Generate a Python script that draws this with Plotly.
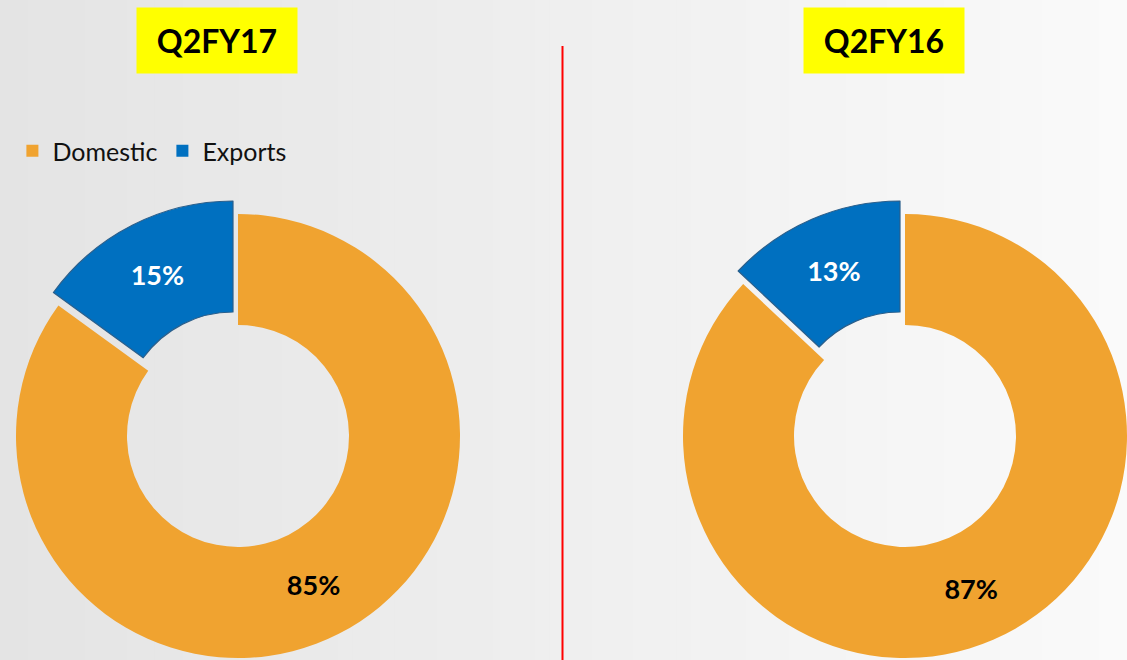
import plotly.graph_objects as go

# ---- data ----
labels = ["Domestic", "Exports"]
q2fy17_values = [85, 15]
q2fy16_values = [87, 13]
titles = ["Q2FY17", "Q2FY16"]
slice_colors = ["#F0A330", "#0070C0"]

W, H = 1127, 660
FONT = "Lato"
TRANSPARENT = "rgba(0,0,0,0)"


def dom(cx, cy, r):
    return dict(x=[(cx - r) / W, (cx + r) / W],
                y=[1 - (cy + r) / H, 1 - (cy - r) / H])


fig = go.Figure()

# legend-only trace (invisible, tiny domain)
fig.add_trace(go.Pie(
    labels=labels, values=q2fy17_values, sort=False, direction="clockwise",
    marker=dict(colors=slice_colors), textinfo="none", hoverinfo="skip",
    domain=dict(x=[0, 0.0001], y=[0, 0.0001]), showlegend=True,
))

R = 222
PULL_DX, PULL_DY = -5, -13
donuts = [
    (q2fy17_values, 238, 436),
    (q2fy16_values, 905, 436),
]

for vals, cx, cy in donuts:
    # main ring: domestic slice
    fig.add_trace(go.Pie(
        labels=labels, values=vals, sort=False, direction="clockwise", rotation=0,
        hole=0.5, domain=dom(cx, cy, R),
        marker=dict(colors=[slice_colors[0], TRANSPARENT],
                    line=dict(width=0, color=TRANSPARENT)),
        texttemplate=["<b>%{percent:.0%}</b>", ""], textposition="inside",
        insidetextorientation="horizontal",
        insidetextfont=dict(family=FONT, size=27, color=["#000000", "#ffffff"]),
        hoverinfo="label+percent", showlegend=False,
    ))
    # exploded exports slice
    fig.add_trace(go.Pie(
        labels=labels, values=vals, sort=False, direction="clockwise", rotation=0,
        hole=0.5, domain=dom(cx + PULL_DX, cy + PULL_DY, R),
        marker=dict(colors=[TRANSPARENT, slice_colors[1]],
                    line=dict(width=[0, 1.2], color=[TRANSPARENT, "#2A5F8C"])),
        texttemplate=["", "<b>%{percent:.0%}</b>"], textposition="inside",
        insidetextorientation="horizontal",
        insidetextfont=dict(family=FONT, size=27, color=["#000000", "#ffffff"]),
        hoverinfo="label+percent", showlegend=False,
    ))

# background gradient stripes
shapes = []
N = 80
c0, c1 = 0xE4, 0xFA
for i in range(N):
    t = i / (N - 1)
    v = round(c0 + (c1 - c0) * t)
    col = f"rgb({v},{v},{v})"
    shapes.append(dict(type="rect", xref="paper", yref="paper",
                       x0=i / N, x1=(i + 1) / N + 0.002, y0=0, y1=1,
                       fillcolor=col, line=dict(width=0), layer="below"))
# red divider
shapes.append(dict(type="line", xref="paper", yref="paper",
                   x0=562.5 / W, x1=562.5 / W, y0=0, y1=1 - 46 / H,
                   line=dict(color="#FF0000", width=2), layer="above"))

annotations = []
for title, cx in zip(titles, [217, 883.5]):
    annotations.append(dict(
        text=f"<b>{title}</b>", x=cx / W, y=1 - 40.5 / H, xref="paper", yref="paper",
        xanchor="center", yanchor="middle", showarrow=False,
        font=dict(family=FONT, size=32, color="#000000"),
        bgcolor="#FFFF00", width=160, height=65, borderpad=0,
    ))

fig.update_layout(
    width=W, height=H, margin=dict(l=0, r=0, t=0, b=0),
    paper_bgcolor="#EEEEEE", plot_bgcolor="rgba(0,0,0,0)",
    shapes=shapes, annotations=annotations,
    showlegend=True,
    legend=dict(orientation="h", x=0.011, y=1 - 151 / H, xanchor="left", yanchor="middle",
                font=dict(family=FONT, size=25, color="#111111"),
                bgcolor="rgba(0,0,0,0)", itemwidth=30),
    font=dict(family=FONT),
)

fig.write_html(
    "out.html",
    config={"displayModeBar": False},
    post_script="document.body.style.margin='0';document.body.style.overflow='hidden';",
)
